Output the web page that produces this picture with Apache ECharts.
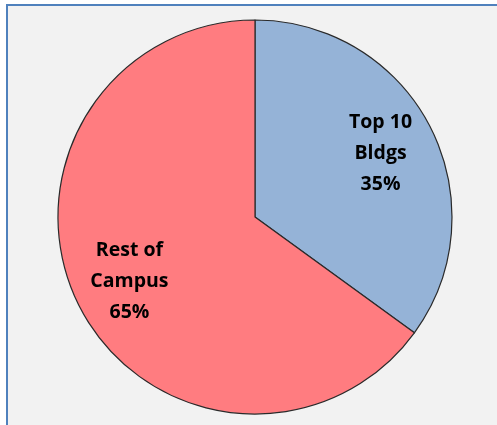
<!DOCTYPE html>
<html>
<head>
<meta charset="utf-8">
<script src="https://cdn.jsdelivr.net/npm/echarts@6/dist/echarts.min.js"></script>
<style>
  html, body { margin: 0; padding: 0; background: #ffffff; overflow: hidden; }
  #frame {
    position: absolute; left: 6px; top: 4px;
    width: 560px; height: 480px;
    border: 2px solid #4F81BD; background: #F2F2F2;
  }
  #chart { position: absolute; left: 0; top: 0; width: 489px; height: 419px; }
</style>
</head>
<body>
<div id="frame"><div id="chart"></div></div>
<script>
// Share of campus energy use
const categories = ['Top 10\nBldgs', 'Rest of\nCampus'];
const shares = [35, 65];
const sliceColors = ['#95B3D7', '#FF7C80'];

const center = [247, 211];
const radius = 197;
// labels sit at this fraction of the radius along each slice's mid-angle
const labelRadiusFrac = 0.70;

const total = shares.reduce((a, b) => a + b, 0);
const midAngles = [];
let acc = 0;
shares.forEach(v => {
  midAngles.push(((acc + v / 2) / total) * 2 * Math.PI);
  acc += v;
});

const chart = echarts.init(document.getElementById('chart'), null, { renderer: 'canvas' });
chart.setOption({
  animation: false,
  backgroundColor: 'transparent',
  series: [{
    type: 'pie',
    center: center,
    radius: [0, radius],
    startAngle: 90,
    clockwise: true,
    data: categories.map((name, i) => ({
      name: name,
      value: shares[i],
      itemStyle: { color: sliceColors[i] }
    })),
    itemStyle: { borderColor: '#2a2a2a', borderWidth: 1.2 },
    label: {
      show: true,
      position: 'inside',
      formatter: p => p.name + '\n' + p.value + '%',
      fontFamily: 'Open Sans',
      fontWeight: 'bold',
      fontSize: 19.5,
      lineHeight: 31,
      color: '#000000',
      align: 'center'
    },
    labelLayout: function (params) {
      const a = midAngles[params.dataIndex];
      const d = (labelRadiusFrac - 0.5) * radius;
      return { dx: d * Math.sin(a), dy: -d * Math.cos(a) };
    },
    emphasis: { disabled: true }
  }]
});
</script>
</body>
</html>
